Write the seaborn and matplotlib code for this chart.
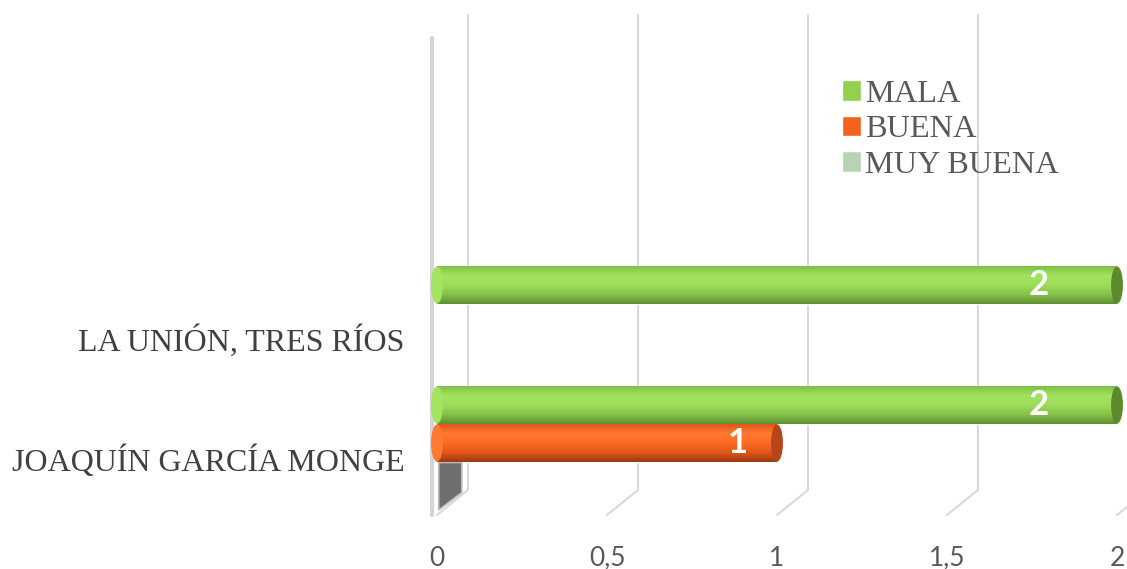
import numpy as np
import pandas as pd
import matplotlib
matplotlib.use("Agg")
import matplotlib.pyplot as plt
import matplotlib.transforms as mtransforms
from matplotlib.colors import LinearSegmentedColormap
from matplotlib.patches import Ellipse, Polygon
import seaborn as sns

# datos del gráfico
categorias = ["LA UNIÓN, TRES RÍOS", "JOAQUÍN GARCÍA MONGE"]
series = ["MALA", "BUENA", "MUY BUENA"]
mala = [2, 2]
buena = [0, 1]
muy_buena = [0, 0]
x_ticks = [0, 0.5, 1, 1.5, 2]
x_labels = ["0", "0,5", "1", "1,5", "2"]

colores = {"MALA": "#92D050", "BUENA": "#F4621F", "MUY BUENA": "#B6D4B1"}
# degradado vertical (arriba -> abajo) para simular el cilindro
degradados = {
    "MALA": ["#7fbf45", "#a2e460", "#9ddc5a", "#84c24a", "#5f8f2f"],
    "BUENA": ["#e2561a", "#ff7a30", "#fb6c22", "#e0561a", "#9c3a10"],
    "MUY BUENA": ["#c8dec4", "#b6d4b1", "#a3c49d", "#8aaf84", "#6f9268"],
}
tapas = {"MALA": "#5e8a2e", "BUENA": "#b8441a", "MUY BUENA": "#7e9e78"}

df = pd.DataFrame({
    "escuela": categorias * 3,
    "serie": [s for s in series for _ in categorias],
    "valor": mala + buena + muy_buena,
})

sns.set_theme(style="white")
plt.rcParams["font.family"] = ["Liberation Serif", "DejaVu Serif"]

fig = plt.figure(figsize=(11.27, 5.69), dpi=100)
ax = fig.add_axes([427 / 1127, 54 / 569, 700 / 1127, 500 / 569])

sns.barplot(data=df, y="escuela", x="valor", hue="serie", order=categorias,
            hue_order=series, palette=colores, width=0.95, orient="h",
            saturation=1, ax=ax)

# cilindros: degradado + tapa al final de cada barra
for serie, cont in zip(series, ax.containers):
    cmap = LinearSegmentedColormap.from_list(serie, degradados[serie])
    for bar in cont:
        x0, y0 = bar.get_x(), bar.get_y()
        w, h = bar.get_width(), bar.get_height()
        if w <= 0:
            continue
        grad = np.linspace(0, 1, 100).reshape(-1, 1)
        im = ax.imshow(grad, cmap=cmap, aspect="auto", origin="upper",
                       extent=(x0, x0 + w, y0 + h, y0), zorder=2)
        im.set_clip_path(bar)
        ax.add_patch(Ellipse((x0 + w, y0 + h / 2), 0.035, h * 0.98,
                             facecolor=tapas[serie], edgecolor="none", zorder=3))
        ax.add_patch(Ellipse((x0, y0 + h / 2), 0.035, h * 0.98,
                             facecolor=degradados[serie][1], edgecolor="none", zorder=3))
        ax.annotate(f"{w:g}", xy=(x0 + w * 0.885, y0 + h / 2), ha="center", va="center",
                    color="white", fontsize=25, fontweight="bold",
                    family=["Lato", "DejaVu Sans"], zorder=4)

ax.set_xlim(-10 / 340, 690 / 340)
ax.set_ylim(1.6, -2.567)

# rejilla con el quiebre en perspectiva
trans = mtransforms.blended_transform_factory(ax.transData, ax.transAxes)
dx = 31 / 340
for v in x_ticks:
    ax.plot([v + dx, v + dx, v], [1.0, 0.05, 0.0], transform=trans, color="#d9d9d9",
            lw=1.5, zorder=0, clip_on=False)
# pared lateral (3D)
ax.add_patch(Polygon([(0.005, 0.105), (dx * 0.8, 0.105), (dx * 0.8, 0.045), (0.005, 0.01)],
                     closed=True, transform=trans, facecolor="#6e6e6e",
                     edgecolor="#bdbdbd", lw=1.2, zorder=1, clip_on=False))
ax.plot([-5 / 340, -5 / 340], [0.0, 0.954], transform=trans, color="#d4d4d4",
        lw=3, zorder=1, clip_on=False)

ax.set_xticks(x_ticks)
ax.set_xticklabels(x_labels, fontsize=19, color="#595959", family=["Lato", "DejaVu Sans"])
ax.set_yticks([0.125, 1.125])
ax.set_yticklabels(categorias, fontsize=23, color="#404040")
ax.tick_params(axis="x", length=0, pad=22)
ax.tick_params(axis="y", length=0, pad=16)
ax.set_xlabel("")
ax.set_ylabel("")
for s in ax.spines.values():
    s.set_visible(False)
ax.grid(False)

handles, labels = ax.get_legend_handles_labels()
ax.legend(handles, labels, loc="upper left", bbox_to_anchor=(842 / 1127, 1 - 80 / 569),
          bbox_transform=fig.transFigure, frameon=False, fontsize=23.3, labelcolor="#595959",
          handlelength=0.6, handleheight=0.6, handletextpad=0.12, labelspacing=0.2,
          borderpad=0, borderaxespad=0)

fig.savefig("out.png", dpi=100)
plt.close(fig)
